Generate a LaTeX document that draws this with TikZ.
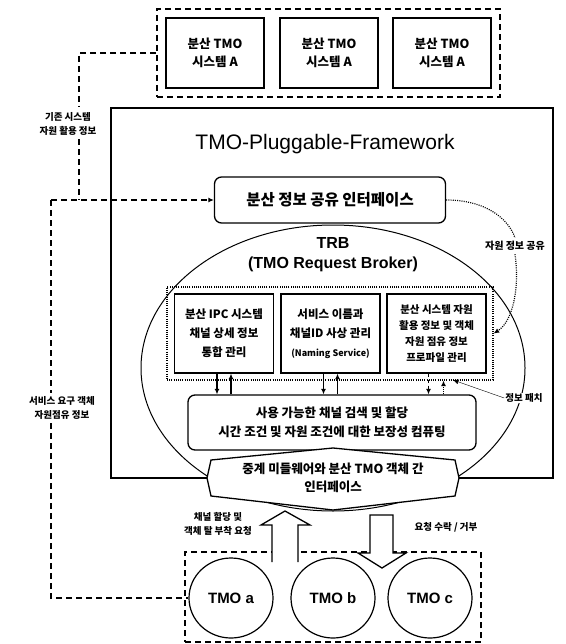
\documentclass[tikz,border=0pt]{standalone}
\usepackage{fontspec}
\setmainfont{Liberation Sans}
\newfontfamily\kr{Noto Sans CJK KR}
\usetikzlibrary{shapes.geometric,arrows.meta}

\tikzset{
  bigdash/.style={line width=1.6pt,dash pattern=on 6pt off 4pt},
  dots/.style={line width=1.2pt,dash pattern=on 1pt off 1.2pt},
  arr/.style={-{Latex[length=5.5pt,width=5pt]}},
  sysbox/.style={draw,line width=1.2pt,minimum width=98pt,minimum height=70pt,align=center,font=\kr\bfseries\fontsize{12.5}{18}\selectfont},
  mgrbox/.style={draw,line width=1.3pt,minimum width=99pt,minimum height=79pt,align=center,inner sep=1pt},
  roundbox/.style={draw,line width=1.3pt,rounded corners=7pt,align=center,fill=white},
  tmo/.style={draw,line width=1.2pt,ellipse,minimum width=84pt,minimum height=80pt,font=\bfseries\fontsize{15}{15}\selectfont},
  lbl/.style={align=center,font=\kr\bfseries\fontsize{9.5}{14}\selectfont},
}

\begin{document}
\begin{tikzpicture}[x=1pt,y=-1pt]
\useasboundingbox (0,0) rectangle (565,644);
% Distributed TMO systems
\node[draw,bigdash,minimum width=343pt,minimum height=88pt] (dist) at (328.5,53) {};
\foreach \n/\x in {1/215,2/329,3/442}{
\node[sysbox] (sys\n) at (\x,53) {분산 TMO\\시스템 A};
}
% Framework
\path[draw,line width=1.3pt] (111,108) rectangle (553,478);
\node[font=\fontsize{21}{21}\selectfont] (title) at (325,144) {TMO-Pluggable-Framework};
\node[roundbox,minimum width=231pt,minimum height=46pt,font=\kr\bfseries\fontsize{15.5}{15}\selectfont] (share) at (330,200) {분산 정보 공유 인터페이스};
% TRB
\node[draw,line width=1pt,ellipse,minimum width=384pt,minimum height=286pt] (trb) at (333,368) {};
\node[align=center,font=\bfseries\fontsize{16}{20}\selectfont] (trbname) at (333,255) {TRB\\(TMO Request Broker)};
\node[draw,dots,minimum width=326pt,minimum height=93pt] (mgr) at (330,333.5) {};
\node[mgrbox,font=\kr\bfseries\fontsize{11.5}{19}\selectfont] (box1) at (224,333.5) {분산 IPC 시스템\\채널 상세 정보\\통합 관리};
\node[mgrbox,font=\kr\bfseries\fontsize{11.5}{19}\selectfont] (box2) at (330.5,333.5) {서비스 이름과\\채널ID 사상 관리\\{\fontsize{9}{12}\selectfont(Naming Service)}};
\node[mgrbox,font=\kr\bfseries\fontsize{10.5}{16}\selectfont] (box3) at (436.5,333.5) {분산 시스템 자원\\활용 정보 및 객체\\자원 점유 정보\\프로파일 관리};
\node[roundbox,minimum width=288pt,minimum height=55pt,font=\kr\bfseries\fontsize{12.5}{19}\selectfont] (alloc) at (332,422.5) {사용 가능한 채널 검색 및 할당\\시간 조건 및 자원 조건에 대한 보장성 컴퓨팅};
% Box to allocation
\foreach \b in {box1,box2}{
\draw[line width=1.2pt,arr] ([xshift=-7pt]\b.south) -- ([xshift=-7pt]\b.south |- alloc.north);
\draw[line width=1.2pt,arr] ([xshift=7pt]\b.south |- alloc.north) -- ([xshift=7pt]\b.south);
}
\draw[line width=1.2pt,dashed,arr] ([xshift=-8pt]box3.south) -- ([xshift=-8pt]box3.south |- alloc.north);
\draw[dots,arr] ([xshift=7pt]box3.south |- alloc.north) -- ([xshift=7pt]box3.south |- mgr.south);
% Relay interface
\path[draw,line width=1.3pt,fill=white] (211,460) -- (333,448) -- (455,460) -- (459,478) -- (455,496) -- (333,510) -- (211,496) -- (207,478) -- cycle;
\node[align=center,font=\kr\bfseries\fontsize{12.5}{18}\selectfont] (relay) at (333,478) {중계 미들웨어와 분산 TMO 객체 간\\인터페이스};
% TMO objects
\node[draw,bigdash,minimum width=296pt,minimum height=90pt] (tmobox) at (333,597) {};
\node[tmo] (tmoa) at (231,598) {TMO a};
\node[tmo] (tmob) at (333,598) {TMO b};
\node[tmo] (tmoc) at (430,598) {TMO c};
% Requests
\path[draw,line width=1.3pt,fill=white] (272,562) -- (272,525) -- (261,525) -- (285,511) -- (310,525) -- (298,525) -- (298,562);
\path[draw,line width=1.3pt,fill=white] (370,515) -- (370,553) -- (358,553) -- (382,568) -- (406,553) -- (393,553) -- (393,515) -- cycle;
\node[lbl] (reqlbl) at (218,524) {채널 할당 및\\객체 탈 부착 요청};
\node[lbl] (acklbl) at (446,527) {요청 수락 / 거부};
% Resource info
\node[lbl] (oldlbl) at (68,124) {기존 시스템\\자원 활용 정보};
\coordinate (oldtop) at (79,106);
\coordinate (join) at (79,200);
\coordinate (corner) at (51,200);
\draw[bigdash] (dist.west) -| (oldtop);
\draw[bigdash] (oldlbl.south -| join) -- (join);
\draw[bigdash,arr] (corner) -- (share.west);
\node[lbl] (svclbl) at (62,408) {서비스 요구 객체\\자원점유 정보};
\draw[bigdash] (corner) -- (svclbl.north -| corner);
\draw[bigdash] (svclbl.south -| corner) |- (tmoa.west);
% Sharing
\node[lbl,font=\kr\bfseries\fontsize{10}{14}\selectfont] (sharelbl) at (515,246) {자원 정보 공유};
\draw[dots] (share.east) .. controls (485,200) and (508,218) .. (sharelbl.north);
\draw[dots,arr] (sharelbl.south) .. controls (520,290) and (512,322) .. (mgr.east);
\node[lbl,fill=white,inner sep=1pt] (fetchlbl) at (524,398) {정보 패치};
\coordinate (fetchpt) at (453,380);
\draw[arr] (fetchlbl.west) -- (fetchpt);
\end{tikzpicture}
\end{document}
